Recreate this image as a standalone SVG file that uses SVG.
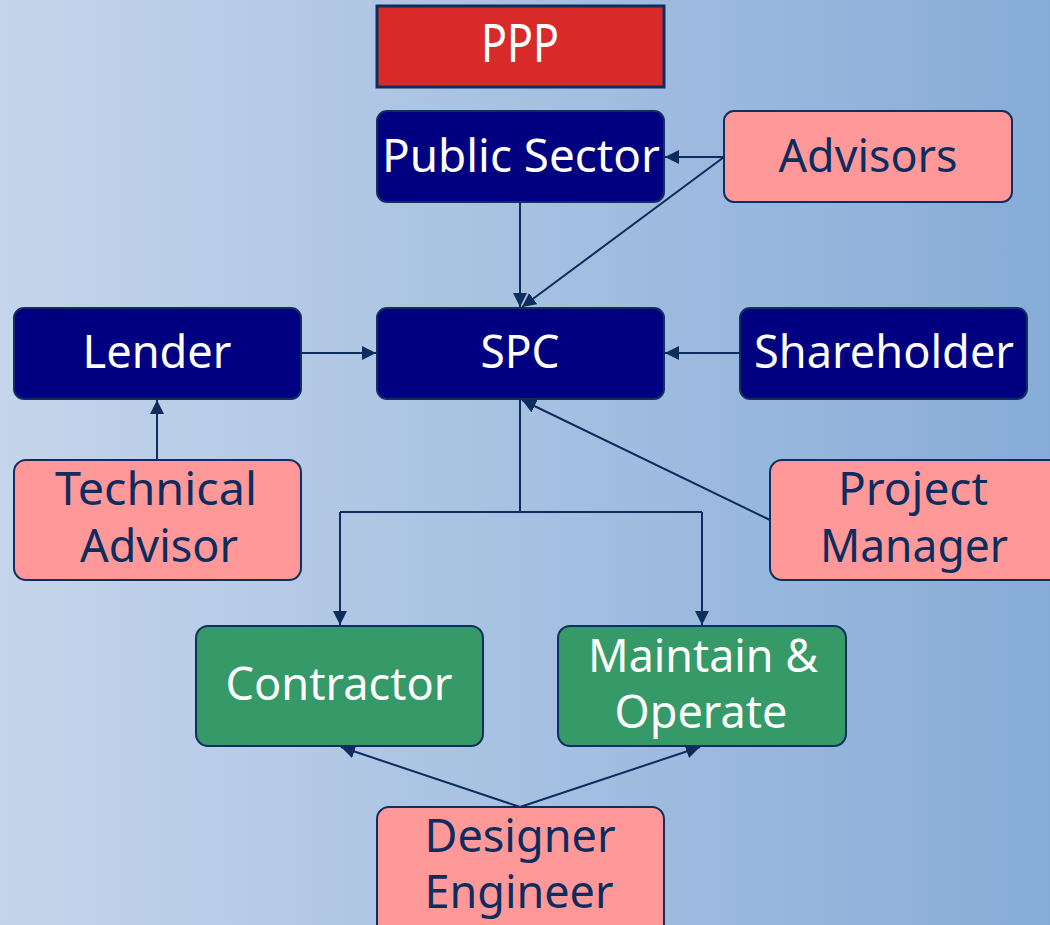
<svg xmlns="http://www.w3.org/2000/svg" width="1050" height="925" viewBox="0 0 1050 925">
<defs>
<linearGradient id="bg" x1="0" y1="0" x2="1" y2="0">
<stop offset="0" stop-color="#c5d5eb"/>
<stop offset="1" stop-color="#87acd8"/>
</linearGradient>
<marker id="ah" viewBox="0 0 14 14" refX="14" refY="7" markerWidth="14" markerHeight="14" markerUnits="userSpaceOnUse" orient="auto">
<path d="M0,0 L14,7 L0,14 Z" fill="#0c2d5e"/>
</marker>
<style>
.box{stroke:#0f2f5f;stroke-width:2}
.blue{fill:#000080}
.pink{fill:#ff9999}
.green{fill:#359a68}
text{font-family:"Noto Sans","Open Sans","DejaVu Sans",sans-serif;font-size:46px;text-anchor:middle}
.w{fill:#ffffff}
.d{fill:#0c2d5e}
.c{stroke:#0c2d5e;stroke-width:2;fill:none;marker-end:url(#ah)}
.cn{stroke:#0c2d5e;stroke-width:2;fill:none}
</style>
</defs>
<rect width="1050" height="925" fill="url(#bg)"/>
<g id="ppp">
<rect x="377" y="6" width="287" height="81" fill="#d92a2a" stroke="#0c2d5e" stroke-width="3"/>
<text class="w" x="520" y="62" style="font-size:52px" textLength="78" lengthAdjust="spacingAndGlyphs">PPP</text>
</g>
<g id="public-sector">
<rect class="box blue" x="377" y="111" width="287" height="91" rx="10"/>
<text class="w" x="521" y="172" textLength="278" lengthAdjust="spacingAndGlyphs">Public Sector</text>
</g>
<g id="advisors">
<rect class="box pink" x="724" y="111" width="288" height="91" rx="10"/>
<text class="d" x="868" y="172" textLength="179" lengthAdjust="spacingAndGlyphs">Advisors</text>
</g>
<g id="lender">
<rect class="box blue" x="14" y="308" width="287" height="91" rx="10"/>
<text class="w" x="157" y="368" textLength="149" lengthAdjust="spacingAndGlyphs">Lender</text>
</g>
<g id="spc">
<rect class="box blue" x="377" y="308" width="287" height="91" rx="10"/>
<text class="w" x="520" y="368" textLength="79" lengthAdjust="spacingAndGlyphs">SPC</text>
</g>
<g id="shareholder">
<rect class="box blue" x="740" y="308" width="287" height="91" rx="10"/>
<text class="w" x="884" y="368" textLength="260" lengthAdjust="spacingAndGlyphs">Shareholder</text>
</g>
<g id="technical-advisor">
<rect class="box pink" x="14" y="460" width="287" height="120" rx="12"/>
<text class="d" x="156" y="505" textLength="202" lengthAdjust="spacingAndGlyphs">Technical</text>
<text class="d" x="159" y="562" textLength="158" lengthAdjust="spacingAndGlyphs">Advisor</text>
</g>
<g id="project-manager">
<rect class="box pink" x="770" y="460" width="292" height="120" rx="12"/>
<text class="d" x="913" y="505" textLength="150" lengthAdjust="spacingAndGlyphs">Project</text>
<text class="d" x="914" y="562" textLength="188" lengthAdjust="spacingAndGlyphs">Manager</text>
</g>
<g id="contractor">
<rect class="box green" x="196" y="626" width="287" height="120" rx="12"/>
<text class="w" x="339" y="700" textLength="227" lengthAdjust="spacingAndGlyphs">Contractor</text>
</g>
<g id="maintain-operate">
<rect class="box green" x="558" y="626" width="288" height="120" rx="12"/>
<text class="w" x="703" y="672" textLength="230" lengthAdjust="spacingAndGlyphs">Maintain &amp;</text>
<text class="w" x="701" y="728" textLength="173" lengthAdjust="spacingAndGlyphs">Operate</text>
</g>
<g id="designer-engineer">
<rect class="box pink" x="377" y="807" width="287" height="130" rx="12"/>
<text class="d" x="520" y="852" textLength="191" lengthAdjust="spacingAndGlyphs">Designer</text>
<text class="d" x="519" y="908" textLength="189" lengthAdjust="spacingAndGlyphs">Engineer</text>
</g>
<g id="connectors">
<line class="c" x1="724" y1="157" x2="665" y2="157"/>
<line class="c" x1="724" y1="157" x2="522" y2="307"/>
<line class="c" x1="520" y1="202" x2="520" y2="307"/>
<line class="c" x1="301" y1="353" x2="376" y2="353"/>
<line class="c" x1="740" y1="353" x2="665" y2="353"/>
<line class="c" x1="157" y1="460" x2="157" y2="400"/>
<line class="c" x1="770" y1="520" x2="522" y2="400"/>
<path class="cn" d="M520,400 V512 H340 M520,512 H702"/>
<line class="c" x1="340" y1="512" x2="340" y2="625"/>
<line class="c" x1="702" y1="512" x2="702" y2="625"/>
<line class="c" x1="520" y1="807" x2="341" y2="747"/>
<line class="c" x1="520" y1="807" x2="700" y2="747"/>
</g>
</svg>
